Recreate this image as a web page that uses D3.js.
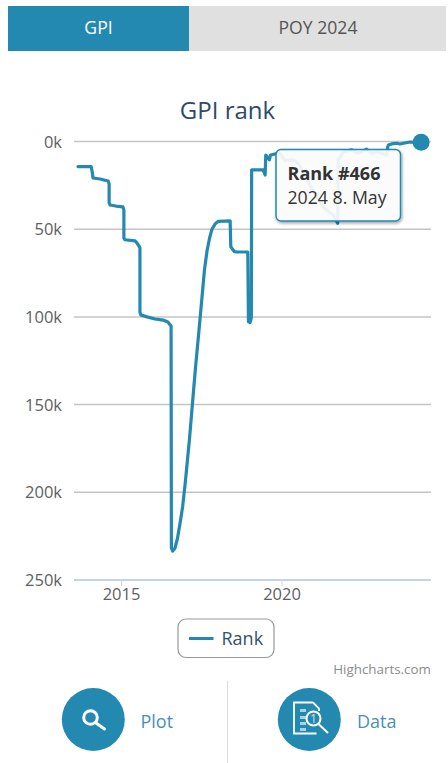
<!DOCTYPE html>
<html>
<head>
<meta charset="utf-8">
<script src="https://cdn.jsdelivr.net/npm/d3@7/dist/d3.min.js"></script>
<style>
html,body{margin:0;padding:0;background:#fff;}
svg{display:block;font-family:"Open Sans",sans-serif;}
</style>
</head>
<body>
<svg id="page" width="448" height="763"></svg>
<script>
// Rank history: decimal years paired with global rank in thousands
const years = [2013.66,2014.07,2014.10,2014.13,2014.35,2014.60,2014.63,2014.63,2014.66,2014.84,2015.06,2015.09,2015.09,2015.12,2015.44,2015.50,2015.56,2015.59,2015.59,2015.62,2015.81,2016.06,2016.31,2016.46,2016.56,2016.57,2016.61,2016.68,2016.76,2016.84,2016.92,2017.00,2017.07,2017.13,2017.22,2017.32,2017.43,2017.53,2017.60,2017.68,2017.76,2017.83,2017.93,2018.03,2018.40,2018.42,2018.53,2018.60,2018.95,2018.97,2019.02,2019.06,2019.07,2019.07,2019.43,2019.49,2019.51,2019.62,2019.66,2019.80,2019.95,2020.11,2020.37,2020.52,2020.73,2021.00,2021.30,2021.61,2021.75,2021.77,2021.93,2022.19,2022.39,2022.65,2022.81,2022.97,2023.12,2023.28,2023.31,2023.33,2023.43,2023.59,2023.69,2024.00,2024.35];
const ranks = [14.3,14.3,17,20.8,21.4,22.5,24.2,35,36.2,36.8,37.3,39,55,56,56.7,57.9,59.6,60.7,97.2,98.9,100,101.2,101.8,102.9,105.2,231.7,233.5,231.9,226.2,217.7,208.2,194.9,181.6,170.2,150.8,129.1,107.5,87.5,73.2,62.4,55,50.2,47,45.5,45.3,60,62.8,62.9,63,102.7,103.3,100.6,17.4,16.2,16.2,19.1,7.7,10.5,7.7,7.1,6.7,10.9,10.5,12.4,19.1,28.6,37.5,41.9,46.6,10.5,5.8,4.8,6.7,4.4,6.7,5.8,6.7,7.7,3.1,2,1.4,1,1.4,0.3,0.466];
const yTicks = [0,50,100,150,200,250];
const xTicks = [2015,2020];
const tabLabels = ["GPI","POY 2024"];
const actionLabels = ["Plot","Data"];
const seriesName = "Rank";
const tooltipLines = ["Rank #466","2024 8. May"];

const teal = "#2389b0";
const svg = d3.select("#page");

// Tab strip above the chart
svg.append("rect").attr("x",8).attr("y",6).attr("width",181).attr("height",45).attr("fill",teal);
svg.append("rect").attr("x",189).attr("y",6).attr("width",257).attr("height",45).attr("fill","#e0e0e0");
svg.append("text").attr("x",98.5).attr("y",34).attr("text-anchor","middle").attr("font-size",17.6).attr("fill","#fff").text(tabLabels[0]);
svg.append("text").attr("x",318).attr("y",34).attr("text-anchor","middle").attr("font-size",17.6).attr("fill","#555").text(tabLabels[1]);

svg.append("text").attr("x",227.5).attr("y",118.5).attr("text-anchor","middle").attr("font-size",24).attr("fill","#2f4a68").text("GPI rank");

// Scales
const x = d3.scaleLinear().domain([2015,2020]).range([121,281.5]);
const y = d3.scaleLinear().domain([0,250]).range([141.5,580]);
const plotLeft = 74, plotRight = 431;

// Grid lines and value labels
const gridG = svg.append("g");
gridG.selectAll("line").data(yTicks.slice(0,-1)).join("line")
  .attr("x1",plotLeft).attr("x2",plotRight)
  .attr("y1",d=>y(d)).attr("y2",d=>y(d))
  .attr("stroke","#c4c4c4").attr("stroke-width",1.5);
gridG.selectAll("text").data(yTicks).join("text")
  .attr("x",62).attr("y",d=>y(d)+6).attr("text-anchor","end")
  .attr("font-size",16.5).attr("fill","#606060").text(d=>d+"k");

// Bottom axis
const xAxis = d3.axisBottom(x).tickValues(xTicks).tickFormat(d3.format("d")).tickSize(6).tickPadding(2);
const xG = svg.append("g").attr("transform","translate(0,580)").call(xAxis);
xG.select(".domain").remove();
xG.append("line").attr("x1",plotLeft).attr("x2",plotRight).attr("stroke","#c6d4e2").attr("stroke-width",2);
xG.selectAll(".tick line").attr("stroke","#ccd6eb");
xG.selectAll(".tick text").attr("font-size",16.5).attr("fill","#606060").attr("font-family","'Open Sans',sans-serif");

// Rank line and the hovered point
const pts = years.map((yr,i)=>[yr,ranks[i]]);
const line = d3.line().x(d=>x(d[0])).y(d=>y(d[1]));
svg.append("path").attr("d",line(pts)).attr("fill","none").attr("stroke",teal)
  .attr("stroke-width",3.2).attr("stroke-linejoin","round").attr("stroke-linecap","round");
const last = pts[pts.length-1];
svg.append("circle").attr("cx",x(last[0])).attr("cy",y(last[1])).attr("r",8.5).attr("fill",teal);

// Tooltip box
const defs = svg.append("defs");
const shadow = defs.append("filter").attr("id","tipShadow").attr("x","-10%").attr("y","-10%").attr("width","125%").attr("height","130%");
shadow.append("feDropShadow").attr("dx",1).attr("dy",1.5).attr("stdDeviation",1.5).attr("flood-color","#000").attr("flood-opacity",0.4);
svg.append("rect").attr("x",276).attr("y",149.5).attr("width",124.5).attr("height",71.5).attr("rx",5)
  .attr("fill","#fff").attr("fill-opacity",0.89).attr("stroke",teal).attr("stroke-width",1.5).attr("filter","url(#tipShadow)");
svg.append("text").attr("x",287.5).attr("y",180).attr("font-size",18).attr("font-weight",700).attr("fill","#333").text(tooltipLines[0]);
svg.append("text").attr("x",287.5).attr("y",203.5).attr("font-size",17.7).attr("fill","#333").text(tooltipLines[1]);

// Legend
svg.append("rect").attr("x",178).attr("y",619).attr("width",96).attr("height",38.5).attr("rx",8)
  .attr("fill","#fff").attr("stroke","#999").attr("stroke-width",1.2);
svg.append("line").attr("x1",189).attr("x2",213.5).attr("y1",638.5).attr("y2",638.5).attr("stroke",teal).attr("stroke-width",3);
svg.append("text").attr("x",221.5).attr("y",644.5).attr("font-size",18).attr("fill","#34506e").text(seriesName);

svg.append("text").attr("x",431).attr("y",674).attr("text-anchor","end").attr("font-size",13.4).attr("fill","#8c8c8c").text("Highcharts.com");

// Action buttons below the chart
svg.append("line").attr("x1",227.5).attr("x2",227.5).attr("y1",681).attr("y2",763).attr("stroke","#dcdcdc").attr("stroke-width",1);
svg.append("circle").attr("cx",93.3).attr("cy",719.5).attr("r",31.5).attr("fill",teal);
svg.append("circle").attr("cx",309.3).attr("cy",719.5).attr("r",31.5).attr("fill",teal);
svg.append("text").attr("x",140.5).attr("y",727.5).attr("font-size",18).attr("fill","#4a8fb5").text(actionLabels[0]);
svg.append("text").attr("x",357).attr("y",727.5).attr("font-size",18).attr("fill","#4a8fb5").text(actionLabels[1]);

// Magnifier glyph
const plotIcon = svg.append("g").attr("fill","none").attr("stroke","#fff").attr("stroke-linecap","round");
plotIcon.append("circle").attr("cx",90.5).attr("cy",717.5).attr("r",6.8).attr("stroke-width",3);
plotIcon.append("line").attr("x1",96).attr("y1",723).attr("x2",104.5).attr("y2",729).attr("stroke-width",3);

// Document-with-lens glyph
const dataIcon = svg.append("g").attr("fill","none").attr("stroke","#fff");
dataIcon.append("path").attr("d","M313 702.5H294V733.5H316.5M313 702.5L319 708.5V711").attr("stroke-width",1.8);
dataIcon.selectAll("rect").data([709,716,722,728]).join("rect")
  .attr("x",300).attr("y",d=>d).attr("width",6).attr("height",3).attr("fill","#a9d3e2").attr("stroke","none");
dataIcon.append("circle").attr("cx",313.5).attr("cy",718.5).attr("r",7).attr("stroke-width",2);
dataIcon.append("line").attr("x1",318.5).attr("y1",724).attr("x2",328).attr("y2",733).attr("stroke-width",2);
svg.append("text").attr("x",313.5).attr("y",723).attr("text-anchor","middle").attr("font-size",12).attr("fill","#cfe6ef").text("1");
</script>
</body>
</html>
